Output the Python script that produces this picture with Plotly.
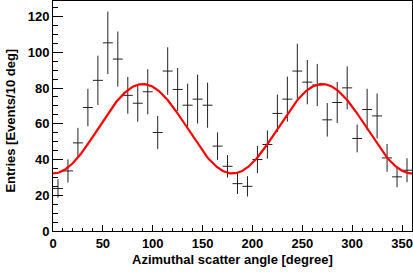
import numpy as np
import plotly.graph_objects as go

# Bin centres (degrees) and measured entries with errors
angle = [5, 15, 25, 35, 45, 55, 65, 75, 85, 95, 105, 115, 125, 135, 145, 155, 165, 175,
         185, 195, 205, 215, 225, 235, 245, 255, 265, 275, 285, 295, 305, 315, 325, 335, 345, 355]
entries = [23.8, 33.6, 49.3, 69.1, 84.3, 105.3, 96.2, 75.9, 71.5, 77.9, 55.1, 89.5,
           79.2, 70.4, 73.8, 70.4, 47.5, 36.2, 26.5, 25.0, 40.0, 48.4, 65.8, 73.8,
           89.5, 83.3, 81.7, 62.2, 71.9, 80.1, 51.8, 68.0, 64.4, 40.9, 30.3, 34.0]
errors = [5.2, 6.5, 8.4, 10.5, 13.8, 17.5, 15.4, 10.3, 10.3, 12.6, 9.3, 13.3,
          12.0, 12.0, 13.7, 12.6, 7.7, 6.3, 5.8, 5.7, 7.6, 7.9, 10.5, 12.6,
          15.3, 12.4, 11.8, 9.4, 11.5, 12.0, 7.8, 11.6, 12.6, 7.8, 5.8, 6.7]
bin_half_width = [5] * len(angle)

# Fit parameters: N(phi) = A - B*cos(2*phi)
fit_A = 57.2
fit_B = 25.0

phi = np.linspace(0, 360, 361)
fit_curve = fit_A - fit_B * np.cos(np.radians(2 * phi))

fig = go.Figure()
fig.add_trace(go.Scatter(
    x=angle, y=entries, mode="markers",
    marker=dict(size=1, color="rgba(0,0,0,0)"),
    error_x=dict(type="data", array=bin_half_width, symmetric=True,
                 color="#222222", thickness=1, width=0),
    error_y=dict(type="data", array=errors, symmetric=True,
                 color="#222222", thickness=1, width=0),
    showlegend=False,
))
fig.add_trace(go.Scatter(
    x=phi, y=fit_curve, mode="lines",
    line=dict(color="#ff0000", width=2.2),
    showlegend=False,
))

font_family = "Liberation Sans, Arial, Helvetica, sans-serif"
fig.update_layout(
    width=413, height=273,
    margin=dict(l=53, r=1, t=1, b=42),
    paper_bgcolor="white", plot_bgcolor="white",
    font=dict(family=font_family, size=13, color="black"),
    xaxis=dict(
        range=[0, 360], showgrid=False, zeroline=False, automargin=False,
        showline=True, mirror=True, linecolor="black", linewidth=1,
        ticks="inside", ticklen=6, tickcolor="black", dtick=50, tick0=0,
        minor=dict(ticks="inside", ticklen=3, dtick=10, tickcolor="black", showgrid=False),
        tickfont=dict(family=font_family, size=13, weight="bold", color="black"),
    ),
    yaxis=dict(
        range=[0, 128.7], showgrid=False, zeroline=False, automargin=False,
        showline=True, mirror=True, linecolor="black", linewidth=1,
        ticks="inside", ticklen=10, tickcolor="black", dtick=20, tick0=0,
        minor=dict(ticks="inside", ticklen=5, dtick=5, tickcolor="black", showgrid=False),
        tickfont=dict(family=font_family, size=13, weight="bold", color="black"),
    ),
    annotations=[
        dict(text="Azimuthal scatter angle [degree]", xref="paper", yref="paper",
             x=0.5, y=-0.126, xanchor="center", yanchor="middle", showarrow=False,
             font=dict(family=font_family, size=13, weight="bold", color="black")),
        dict(text="Entries [Events/10 deg]", xref="paper", yref="paper",
             x=-0.117, y=0.48, xanchor="center", yanchor="middle", showarrow=False,
             textangle=-90,
             font=dict(family=font_family, size=13, weight="bold", color="black")),
    ],
)

fig.write_html(
    "out.html",
    config={"displayModeBar": False},
    post_script="document.body.style.margin='0';document.body.style.padding='0';"
                "document.body.style.overflow='hidden';",
)
